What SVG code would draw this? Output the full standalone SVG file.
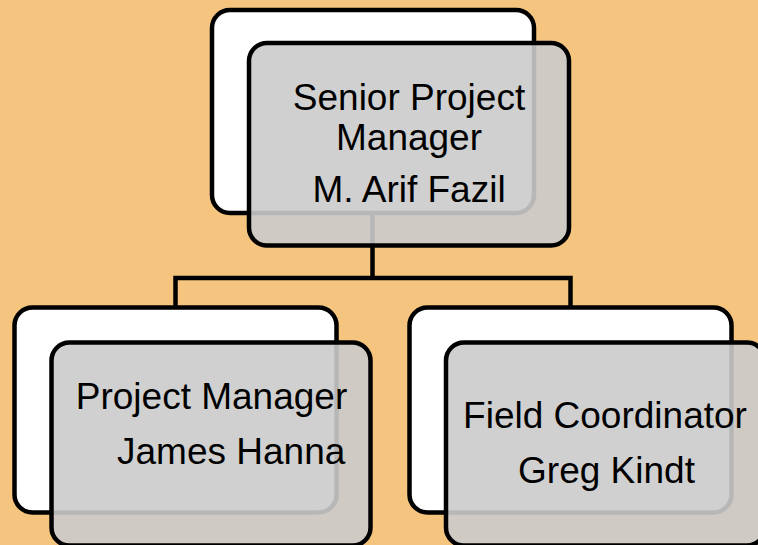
<svg xmlns="http://www.w3.org/2000/svg" width="758" height="545" viewBox="0 0 758 545">
<style>
.back{fill:#FFFFFF;stroke:#000000;stroke-width:4.5}
.front{fill:#CBCBCB;fill-opacity:0.9;stroke:#000000;stroke-width:4.5}
.conn{fill:none;stroke:#000000;stroke-width:4.5}
text{font-family:"Liberation Sans",Arial,sans-serif;font-size:37px;fill:#000000}
</style>
<rect x="0" y="0" width="758" height="545" fill="#F5C580"/>
<g id="connectors">
<path class="conn" d="M372.5,213 V278 M175.5,307.5 V278 H570.5 V307.5"/>
</g>
<g id="node-senior">
<rect class="back" x="212" y="10" width="322" height="203" rx="18"/>
<rect class="front" x="249" y="43" width="320" height="202.5" rx="18"/>
<text x="409" y="110" text-anchor="middle">Senior Project</text>
<text x="409" y="150" text-anchor="middle">Manager</text>
<text x="409" y="202" text-anchor="middle">M. Arif Fazil</text>
</g>
<g id="node-pm">
<rect class="back" x="14.5" y="307.5" width="322" height="205" rx="18"/>
<rect class="front" x="51.5" y="342.5" width="319" height="203" rx="18"/>
<text x="211.5" y="408.5" text-anchor="middle">Project Manager</text>
<text x="117" y="463.5">James Hanna</text>
</g>
<g id="node-fc">
<rect class="back" x="409.5" y="307.5" width="322" height="205" rx="18"/>
<rect class="front" x="446" y="342.5" width="319" height="203" rx="18"/>
<text x="605" y="428" text-anchor="middle">Field Coordinator</text>
<text x="606.5" y="482.5" text-anchor="middle">Greg Kindt</text>
</g>
</svg>
